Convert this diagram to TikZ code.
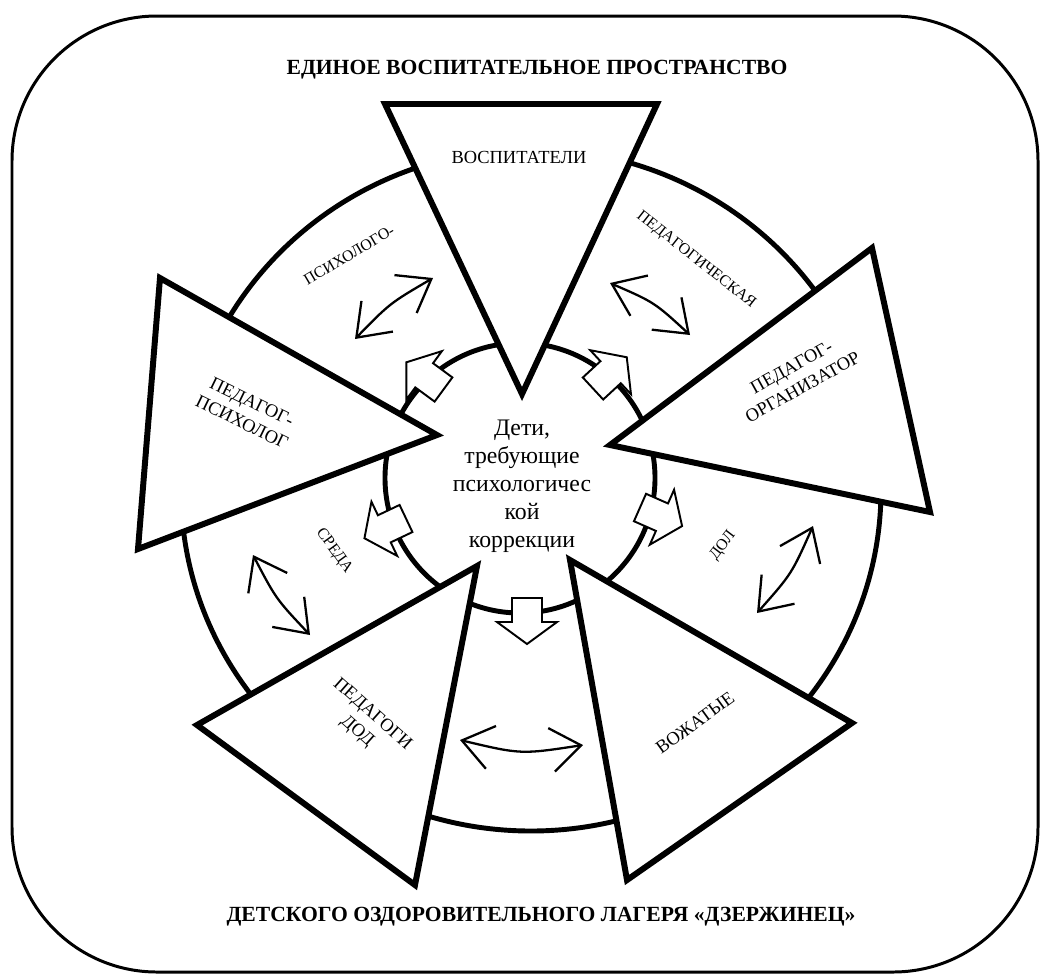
\documentclass[tikz,border=0pt]{standalone}
\usepackage{fontspec}
\setmainfont{Liberation Serif}
\usetikzlibrary{arrows.meta}
\begin{document}
\begin{tikzpicture}[x=0.02cm,y=-0.02cm,
  outerframe/.style={draw, line width=1.7pt, rounded corners=2.9cm},
  ringline/.style={draw, line width=2.8pt, fill=white},
  triside/.style={draw, line width=3.4pt, fill=white, line join=miter},
  barrow/.style={draw, line width=1.1pt, fill=white, line join=miter},
  carrow/.style={line width=1.3pt, {Straight Barb[length=17pt,width=25pt]}-{Straight Barb[length=17pt,width=25pt]}},
  lab/.style={font=\fontsize{10.5}{13}\selectfont, align=center, inner sep=0pt},
  ringlab/.style={font=\fontsize{9}{11}\selectfont, inner sep=0pt},
  ttl/.style={font=\fontsize{12.3}{14}\selectfont\bfseries, inner sep=0pt},
  midtext/.style={font=\fontsize{13.5}{16}\selectfont, align=center, inner sep=0pt},
  blockarrow/.pic={\path[barrow] (0,15) -- (24,15) -- (24,30) -- (46,0) -- (24,-30) -- (24,-15) -- (0,-15) -- cycle;}
]
\useasboundingbox (0,0) rectangle (1041,975);
\clip (0,0) rectangle (1041,975);
\fill[white] (0,0) rectangle (1041,975);

% outer frame
\path[outerframe] (12,16) rectangle (1038,972);

% ring and inner circle
\path[ringline] (531,490) ellipse [x radius=350, y radius=341];
\path[ringline] (520,478) circle [radius=135];

% triangle vertices
\coordinate (t1a) at (385,104); \coordinate (t1b) at (657,104); \coordinate (t1c) at (522,394);
\coordinate (t2a) at (872,248); \coordinate (t2b) at (930,512); \coordinate (t2c) at (610,445);
\coordinate (t3a) at (570,560); \coordinate (t3b) at (852,723); \coordinate (t3c) at (627,880);
\coordinate (t4a) at (477,566); \coordinate (t4b) at (197,725); \coordinate (t4c) at (415,885);
\coordinate (t5a) at (160,278); \coordinate (t5b) at (437,435); \coordinate (t5c) at (138,549);

\path[triside] (t1a) -- (t1b) -- (t1c) -- cycle;
\path[triside] (t2a) -- (t2b) -- (t2c) -- cycle;
\path[triside] (t3a) -- (t3b) -- (t3c) -- cycle;
\path[triside] (t4a) -- (t4b) -- (t4c) -- cycle;
\path[triside] (t5a) -- (t5b) -- (t5c) -- cycle;

% block arrows from the centre
\pic[rotate=143.7] at (443.5,389.5) {blockarrow};
\pic[rotate=42.8] at (593,388.5) {blockarrow};
\pic[rotate=-23.8] at (640,507.5) {blockarrow};
\pic[rotate=-90] at (527,598) {blockarrow};
\pic[rotate=205.4] at (406,518.5) {blockarrow};

% curved double arrows in the ring
\coordinate (a1s) at (355,339); \coordinate (a1c) at (389.9,303.2); \coordinate (a1e) at (433,278);
\coordinate (a2s) at (610,283); \coordinate (a2c) at (654.4,302.3); \coordinate (a2e) at (690,335);
\coordinate (a3s) at (757,613); \coordinate (a3c) at (791.7,573.8); \coordinate (a3e) at (813,526);
\coordinate (a4s) at (460,740); \coordinate (a4c) at (521,754.5); \coordinate (a4e) at (583,745);
\coordinate (a5s) at (253,555); \coordinate (a5c) at (276,598.9); \coordinate (a5e) at (310,635);
\draw[carrow] (a1s) .. controls (a1c) .. (a1e);
\draw[carrow] (a2s) .. controls (a2c) .. (a2e);
\draw[carrow] (a3s) .. controls (a3c) .. (a3e);
\draw[carrow] (a4s) .. controls (a4c) .. (a4e);
\draw[carrow] (a5s) .. controls (a5c) .. (a5e);

% titles
\node[ttl] (title1) at (537,70) {ЕДИНОЕ ВОСПИТАТЕЛЬНОЕ ПРОСТРАНСТВО};
\node[ttl] (title2) at (541,917) {ДЕТСКОГО ОЗДОРОВИТЕЛЬНОГО ЛАГЕРЯ «ДЗЕРЖИНЕЦ»};

% centre
\node[midtext] (kids) at (522,486) {Дети,\\требующие\\психологичес\\кой\\коррекции};

% triangle labels
\node[lab] (l1) at (519,157) {ВОСПИТАТЕЛИ};
\node[lab, rotate=29] (l2) at (797,377) {ПЕДАГОГ-\\ОРГАНИЗАТОР};
\node[lab, rotate=36] (l3) at (695,723) {ВОЖАТЫЕ};
\node[lab, rotate=-41.6] (l4) at (364.5,723) {ПЕДАГОГИ\\ДОД};
\node[lab, rotate=-26] (l5) at (247,412) {ПЕДАГОГ-\\ПСИХОЛОГ};

% ring labels
\node[ringlab, rotate=30.5] (r1) at (349,255) {ПСИХОЛОГО-};
\node[ringlab, rotate=-38.3] (r2) at (696,260) {ПЕДАГОГИЧЕСКАЯ};
\node[ringlab, rotate=52.7] (r3) at (723,546) {ДОЛ};
\node[ringlab, rotate=-54] (r4) at (334,551) {СРЕДА};
\end{tikzpicture}
\end{document}
